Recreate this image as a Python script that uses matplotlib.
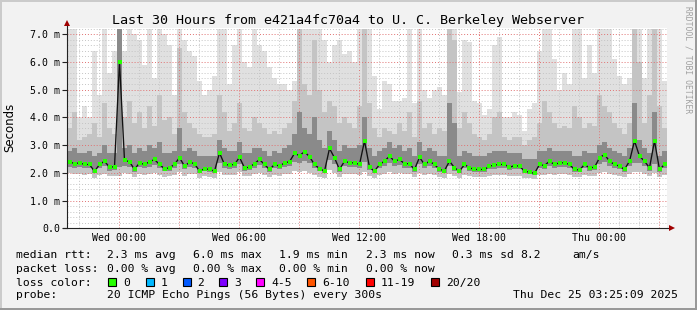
import numpy as np
import matplotlib
matplotlib.use("Agg")
import matplotlib.pyplot as plt
from matplotlib.patches import Rectangle
from matplotlib.lines import Line2D
from matplotlib.ticker import MultipleLocator, FuncFormatter

# 15 minute steps, hours relative to Wed 00:00 (Tue 21:25 -> Thu 03:25)
t_start = -2.5833
step_h = 0.25

median = [2.40, 2.33, 2.36, 2.30, 2.30, 2.05, 2.30, 2.42, 2.20, 2.22,
          6.00, 2.45, 2.40, 2.12, 2.36, 2.30, 2.40, 2.48, 2.30, 2.15,
          2.18, 2.30, 2.55, 2.24, 2.38, 2.33, 2.06, 2.15, 2.12, 2.06,
          2.72, 2.30, 2.28, 2.30, 2.56, 2.18, 2.20, 2.33, 2.48, 2.30,
          2.12, 2.30, 2.24, 2.36, 2.40, 2.70, 2.62, 2.76, 2.58, 2.30,
          2.15, 2.06, 2.88, 2.54, 2.12, 2.42, 2.36, 2.36, 2.30, 3.15,
          2.20, 2.06, 2.30, 2.42, 2.60, 2.42, 2.48, 2.33, 2.33, 2.12,
          2.56, 2.30, 2.42, 2.30, 2.12, 2.08, 2.42, 2.18, 2.06, 2.30,
          2.18, 2.12, 2.12, 2.12, 2.24, 2.28, 2.30, 2.30, 2.20, 2.26,
          2.24, 2.06, 2.02, 1.98, 2.30, 2.26, 2.42, 2.30, 2.36, 2.36,
          2.30, 2.12, 2.10, 2.30, 2.18, 2.20, 2.54, 2.66, 2.42, 2.30,
          2.24, 2.12, 2.42, 3.15, 2.60, 2.42, 2.18, 3.15, 2.12, 2.30]

rtt_max = [7.2, 7.2, 4.0, 4.4, 4.0, 6.4, 4.8, 7.2, 5.6, 6.4,
           7.2, 6.4, 7.2, 7.0, 6.8, 5.9, 7.2, 5.4, 7.2, 7.0,
           6.6, 4.8, 7.2, 6.8, 6.4, 6.2, 5.3, 4.8, 5.0, 5.5,
           7.2, 7.2, 5.2, 6.6, 7.2, 6.0, 5.8, 7.2, 6.6, 6.4,
           5.8, 5.4, 5.2, 5.2, 5.0, 5.3, 7.2, 7.2, 7.2, 7.2,
           7.2, 6.8, 6.0, 6.6, 6.8, 6.3, 6.4, 6.0, 7.2, 7.2,
           7.2, 5.5, 4.3, 5.3, 5.2, 4.6, 4.6, 4.7, 7.2, 4.5,
           7.2, 5.0, 4.7, 5.0, 5.1, 4.8, 7.2, 7.2, 4.9, 6.8,
           6.7, 4.6, 4.5, 4.1, 4.3, 6.6, 6.9, 4.0, 4.0, 4.2,
           4.1, 3.5, 4.3, 4.5, 6.4, 7.2, 7.2, 6.1, 5.0, 5.6,
           5.2, 7.2, 7.2, 5.4, 6.6, 5.6, 7.2, 7.2, 7.2, 6.1,
           5.5, 5.2, 5.4, 7.2, 7.2, 5.4, 7.2, 7.2, 7.2, 5.3]

rtt_p90 = [3.6, 4.2, 3.2, 3.3, 3.4, 3.8, 3.3, 4.5, 3.6, 3.4,
           7.2, 4.0, 4.6, 3.8, 4.2, 3.6, 4.4, 3.7, 4.8, 3.9,
           4.0, 3.4, 6.5, 4.2, 3.8, 3.6, 3.4, 3.3, 3.3, 3.4,
           4.8, 4.2, 3.5, 3.8, 4.5, 3.6, 3.5, 4.0, 3.8, 3.6,
           3.4, 3.5, 3.4, 3.6, 3.8, 4.6, 7.2, 5.2, 4.8, 6.8,
           5.0, 4.2, 4.6, 4.4, 3.8, 4.0, 3.8, 3.6, 4.4, 7.2,
           4.5, 3.6, 3.3, 3.6, 3.5, 3.4, 3.8, 3.5, 4.2, 3.3,
           4.6, 3.6, 3.8, 3.4, 3.6, 3.5, 7.2, 6.8, 3.6, 4.2,
           3.8, 3.4, 3.3, 3.2, 3.4, 4.0, 4.2, 3.3, 3.2, 3.3,
           3.3, 3.0, 3.2, 3.3, 3.8, 4.6, 4.2, 3.8, 3.6, 3.7,
           3.6, 4.4, 4.0, 3.6, 3.8, 3.7, 4.8, 4.4, 4.2, 3.8,
           3.6, 3.4, 3.8, 7.2, 6.0, 3.8, 4.8, 7.2, 4.4, 3.6]

rtt_p75 = [2.8, 2.9, 2.7, 2.7, 2.8, 2.6, 2.7, 3.0, 2.7, 2.7,
           7.2, 2.9, 3.0, 2.7, 2.9, 2.8, 3.0, 2.9, 3.1, 2.7,
           2.7, 2.8, 3.6, 2.8, 2.9, 2.8, 2.6, 2.6, 2.6, 2.6,
           3.2, 2.9, 2.8, 2.8, 3.1, 2.7, 2.7, 2.9, 2.9, 2.8,
           2.6, 2.8, 2.7, 2.9, 3.0, 3.4, 4.2, 3.6, 3.4, 4.0,
           3.2, 2.9, 3.5, 3.2, 2.8, 3.0, 2.9, 2.9, 3.0, 4.0,
           2.9, 2.6, 2.8, 2.9, 3.1, 2.9, 3.0, 2.8, 2.9, 2.6,
           3.1, 2.8, 2.9, 2.8, 2.6, 2.6, 4.5, 3.8, 2.6, 2.8,
           2.7, 2.6, 2.6, 2.6, 2.7, 2.8, 2.8, 2.8, 2.7, 2.7,
           2.7, 2.5, 2.5, 2.5, 2.8, 2.8, 2.9, 2.8, 2.8, 2.8,
           2.8, 2.6, 2.6, 2.8, 2.7, 2.7, 3.0, 3.1, 2.9, 2.8,
           2.7, 2.6, 2.9, 4.5, 3.2, 2.9, 2.7, 4.2, 2.6, 2.8]

rtt_p25 = [2.22, 2.18, 2.20, 2.16, 2.18, 1.98, 2.16, 2.24, 2.08, 2.10,
           2.20, 2.26, 2.22, 2.04, 2.20, 2.16, 2.22, 2.28, 2.16, 2.06,
           2.08, 2.16, 2.30, 2.12, 2.22, 2.18, 2.00, 2.06, 2.04, 1.98,
           2.36, 2.16, 2.14, 2.16, 2.32, 2.08, 2.10, 2.18, 2.28, 2.16,
           2.04, 2.16, 2.12, 2.20, 2.24, 2.40, 2.36, 2.44, 2.34, 2.16,
           2.06, 1.98, 2.46, 2.30, 2.04, 2.24, 2.20, 2.20, 2.16, 2.40,
           2.10, 1.98, 2.16, 2.24, 2.36, 2.24, 2.28, 2.18, 2.18, 2.04,
           2.32, 2.16, 2.24, 2.16, 2.04, 2.00, 2.24, 2.08, 1.98, 2.16,
           2.08, 2.04, 2.04, 2.04, 2.12, 2.14, 2.16, 2.16, 2.10, 2.14,
           2.12, 1.98, 1.94, 1.92, 2.16, 2.14, 2.24, 2.16, 2.20, 2.20,
           2.16, 2.04, 2.02, 2.16, 2.08, 2.10, 2.32, 2.38, 2.24, 2.16,
           2.12, 2.04, 2.24, 2.36, 2.34, 2.24, 2.08, 2.30, 2.04, 2.16]

rtt_min = [1.98, 1.95, 1.96, 1.93, 1.94, 1.82, 1.92, 1.97, 1.88, 1.88,
           1.90, 1.98, 1.96, 1.85, 1.95, 1.92, 1.96, 2.00, 1.93, 1.86,
           1.88, 1.92, 2.02, 1.90, 1.96, 1.94, 1.83, 1.87, 1.86, 1.82,
           2.04, 1.92, 1.92, 1.93, 2.02, 1.88, 1.89, 1.94, 1.99, 1.92,
           1.85, 1.92, 1.90, 1.95, 1.96, 2.06, 2.02, 2.08, 2.00, 1.92,
           1.86, 1.82, 2.10, 1.99, 1.85, 1.97, 1.95, 1.95, 1.92, 2.04,
           1.88, 1.82, 1.92, 1.97, 2.02, 1.97, 1.99, 1.94, 1.94, 1.85,
           2.00, 1.92, 1.97, 1.92, 1.85, 1.83, 1.97, 1.87, 1.82, 1.92,
           1.87, 1.85, 1.85, 1.85, 1.90, 1.91, 1.92, 1.92, 1.88, 1.90,
           1.90, 1.82, 1.80, 1.78, 1.92, 1.91, 1.97, 1.92, 1.95, 1.95,
           1.92, 1.85, 1.84, 1.92, 1.87, 1.88, 2.00, 2.04, 1.97, 1.92,
           1.90, 1.85, 1.97, 2.04, 2.02, 1.97, 1.87, 1.98, 1.85, 1.92]

tick_hours = [0, 6, 12, 18, 24]
tick_labels = ["Wed 00:00", "Wed 06:00", "Wed 12:00", "Wed 18:00", "Thu 00:00"]

loss_labels = ["0", "1", "2", "3", "4-5", "6-10", "11-19", "20/20"]
loss_colors = ["#26ff00", "#00b8ff", "#0059ff", "#7e00ff", "#ff00ff", "#ff5500", "#ff0000", "#a10000"]
loss_box_x = [108, 145.5, 182.5, 219, 256, 307, 365.5, 431]

W, H = 697, 310
MONO = "DejaVu Sans Mono"

def fx(px):
    return px / W

def fy(py):
    return 1 - py / H

fig = plt.figure(figsize=(W / 100, H / 100), dpi=100, facecolor="#f2f2f2")
ax = fig.add_axes([fx(67), fy(228.3), 600 / W, 200.3 / H])
ax.set_facecolor("white")

n = len(median)
edges = t_start + step_h * np.arange(n + 1)
centers = edges[:-1] + step_h / 2

# smoke layers
ax.stairs(rtt_max, edges, baseline=rtt_min, fill=True, color="#e0e0e0", zorder=1)
ax.stairs(rtt_p90, edges, baseline=rtt_min, fill=True, color="#c4c4c4", zorder=2)
ax.stairs(rtt_p75, edges, baseline=rtt_p25, fill=True, color="#8a8a8a", zorder=3)

# median
ax.plot(centers, median, color="#111111", lw=0.95, zorder=5)
ax.plot(centers, median, ls="none", marker="s", ms=2.6, mew=0,
        color=loss_colors[0], zorder=6)

ax.set_xlim(t_start, t_start + 30)
ax.set_ylim(0, 7.22)

ax.xaxis.set_major_locator(MultipleLocator(3))
ax.xaxis.set_minor_locator(MultipleLocator(1))
lab = dict(zip(tick_hours, tick_labels))
ax.xaxis.set_major_formatter(FuncFormatter(
    lambda v, p: lab.get(int(round(v)), "") if abs(v - round(v)) < 1e-6 else ""))
ax.yaxis.set_major_locator(MultipleLocator(1))
ax.yaxis.set_minor_locator(MultipleLocator(0.2))
ax.yaxis.set_major_formatter(FuncFormatter(lambda v, p: "0.0" if abs(v) < 1e-9 else "%.1f m" % v))

ax.grid(which="minor", color="#c4c4c4", lw=0.7, ls=(0, (1, 2)), zorder=7)
ax.grid(which="major", color="#e07070", lw=0.7, ls=(0, (1, 2)), zorder=8)
ax.set_axisbelow(False)

ax.tick_params(axis="x", which="both", length=0, pad=3.6, labelsize=7.1, labelfontfamily=MONO)
ax.tick_params(axis="y", which="major", length=3.6, width=0.8, color="#222222",
               pad=1.1, labelsize=7.1, labelfontfamily=MONO)
ax.tick_params(axis="y", which="minor", length=0)
for s in ax.spines.values():
    s.set_visible(False)

# axes with arrows
ax.plot([0, 0], [0, 1.025], transform=ax.transAxes, color="#222222", lw=0.8, clip_on=False, zorder=9)
ax.plot([-0.007, 1.005], [0, 0], transform=ax.transAxes, color="#222222", lw=0.8, clip_on=False, zorder=9)
ax.plot(0, 1.025, marker="^", ms=4, mew=0, color="#a00000", transform=ax.transAxes, clip_on=False, zorder=10)
ax.plot(1.009, 0, marker=">", ms=4, mew=0, color="#a00000", transform=ax.transAxes, clip_on=False, zorder=10)

fig.text(fx(10), fy(127), "Seconds", rotation=90, ha="center", va="center",
         fontsize=8.5, family="DejaVu Sans")

fig.text(fx(348), fy(24), "Last 30 Hours from e421a4fc70a4 to U. C. Berkeley Webserver",
         ha="center", va="baseline", fontsize=9.6, family=MONO)
fig.text(fx(688), fy(60), "RRDTOOL / TOBI OETIKER", rotation=270, ha="center", va="center",
         fontsize=5.8, family=MONO, color="#a0a0a0")

# legend
fs = 8.2
rows = [
    (258.3, [(16, "median rtt:"), (107.3, "2.3 ms avg"), (193.3, "6.0 ms max"),
             (279.3, "1.9 ms min"), (365.7, "2.3 ms now"), (451.7, "0.3 ms sd"),
             (520, "8.2"), (572.3, "am/s")]),
    (271.8, [(16, "packet loss:"), (107.3, "0.00 % avg"), (193.3, "0.00 % max"),
             (279.3, "0.00 % min"), (365.7, "0.00 % now")]),
    (286.0, [(16, "loss color:")]),
    (298.4, [(16, "probe:"), (107.3, "20 ICMP Echo Pings (56 Bytes) every 300s"),
             (513.3, "Thu Dec 25 03:25:09 2025")]),
]
for yb, items in rows:
    for x, s in items:
        fig.text(fx(x), fy(yb), s, ha="left", va="baseline", fontsize=fs, family=MONO)

for x, c, l in zip(loss_box_x, loss_colors, loss_labels):
    fig.add_artist(Rectangle((fx(x), fy(286.3)), 8 / W, 8 / H, transform=fig.transFigure,
                             facecolor=c, edgecolor="black", lw=0.8))
    fig.text(fx(x + 15), fy(286.0), l, ha="left", va="baseline", fontsize=fs, family=MONO)

# 3d border
fig.add_artist(Line2D([0, 1], [fy(1), fy(1)], transform=fig.transFigure, color="#cbcbcb", lw=1.44))
fig.add_artist(Line2D([fx(1), fx(1)], [0, 1], transform=fig.transFigure, color="#cbcbcb", lw=1.44))
fig.add_artist(Line2D([0, 1], [fy(309), fy(309)], transform=fig.transFigure, color="#999999", lw=1.44))
fig.add_artist(Line2D([fx(696), fx(696)], [0, 1], transform=fig.transFigure, color="#999999", lw=1.44))

fig.savefig("out.png", dpi=100, facecolor=fig.get_facecolor())
